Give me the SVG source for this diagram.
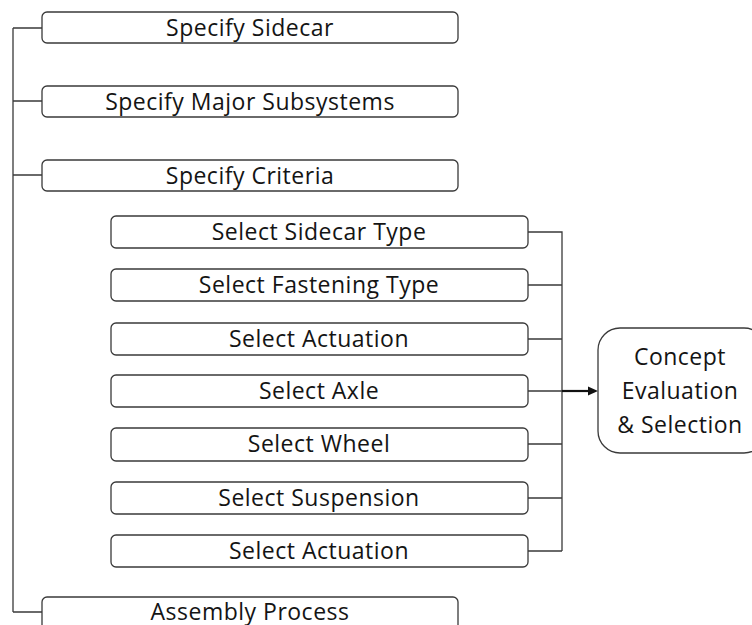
<svg xmlns="http://www.w3.org/2000/svg" width="752" height="625" viewBox="0 0 752 625">
  <style>
    .box { fill: #ffffff; stroke: #3a3a3a; stroke-width: 1.3; }
    .lbl { font-family: "Open Sans", "Liberation Sans", sans-serif; font-size: 23px; letter-spacing: 0.5px; fill: #141414; text-anchor: middle; }
    .wire { fill: none; stroke: #3a3a3a; stroke-width: 1.3; }
  </style>

  <g id="connectors">
    <!-- left spine -->
    <path class="wire" d="M13,28 V612 M13,28 H42 M13,101 H42 M13,175 H42 M13,612 H42"/>
    <!-- right collector -->
    <path class="wire" d="M528,232 H562 V551 M528,285 H562 M528,339 H562 M528,391 H562 M528,444 H562 M528,498 H562 M528,551 H562"/>
    <path d="M562,391 H590" fill="none" stroke="#111111" stroke-width="2.2"/>
    <path d="M598,391 L588,386.5 L588,395.5 z" fill="#111111"/>
  </g>

  <g id="specify-sidecar">
    <rect class="box" x="42" y="12" width="416" height="31" rx="5"/>
    <text class="lbl" x="250" y="36">Specify Sidecar</text>
  </g>
  <g id="specify-major-subsystems">
    <rect class="box" x="42" y="86" width="416" height="31" rx="5"/>
    <text class="lbl" x="250" y="110">Specify Major Subsystems</text>
  </g>
  <g id="specify-criteria">
    <rect class="box" x="42" y="160" width="416" height="31" rx="5"/>
    <text class="lbl" x="250" y="184">Specify Criteria</text>
  </g>

  <g id="select-sidecar-type">
    <rect class="box" x="111" y="216" width="417" height="32" rx="5"/>
    <text class="lbl" x="319" y="240">Select Sidecar Type</text>
  </g>
  <g id="select-fastening-type">
    <rect class="box" x="111" y="269" width="417" height="32" rx="5"/>
    <text class="lbl" x="319" y="293">Select Fastening Type</text>
  </g>
  <g id="select-actuation-1">
    <rect class="box" x="111" y="323" width="417" height="32" rx="5"/>
    <text class="lbl" x="319" y="347">Select Actuation</text>
  </g>
  <g id="select-axle">
    <rect class="box" x="111" y="375" width="417" height="32" rx="5"/>
    <text class="lbl" x="319" y="399">Select Axle</text>
  </g>
  <g id="select-wheel">
    <rect class="box" x="111" y="428" width="417" height="33" rx="5"/>
    <text class="lbl" x="319" y="452">Select Wheel</text>
  </g>
  <g id="select-suspension">
    <rect class="box" x="111" y="482" width="417" height="32" rx="5"/>
    <text class="lbl" x="319" y="506">Select Suspension</text>
  </g>
  <g id="select-actuation-2">
    <rect class="box" x="111" y="535" width="417" height="32" rx="5"/>
    <text class="lbl" x="319" y="559">Select Actuation</text>
  </g>

  <g id="assembly-process">
    <rect class="box" x="42" y="597" width="416" height="40" rx="5"/>
    <text class="lbl" x="250" y="620">Assembly Process</text>
  </g>

  <g id="concept-evaluation">
    <rect class="box" x="598" y="328" width="168" height="125" rx="22"/>
    <text class="lbl" x="680" y="365">Concept</text>
    <text class="lbl" x="680" y="399">Evaluation</text>
    <text class="lbl" x="680" y="433">&amp; Selection</text>
  </g>
</svg>
